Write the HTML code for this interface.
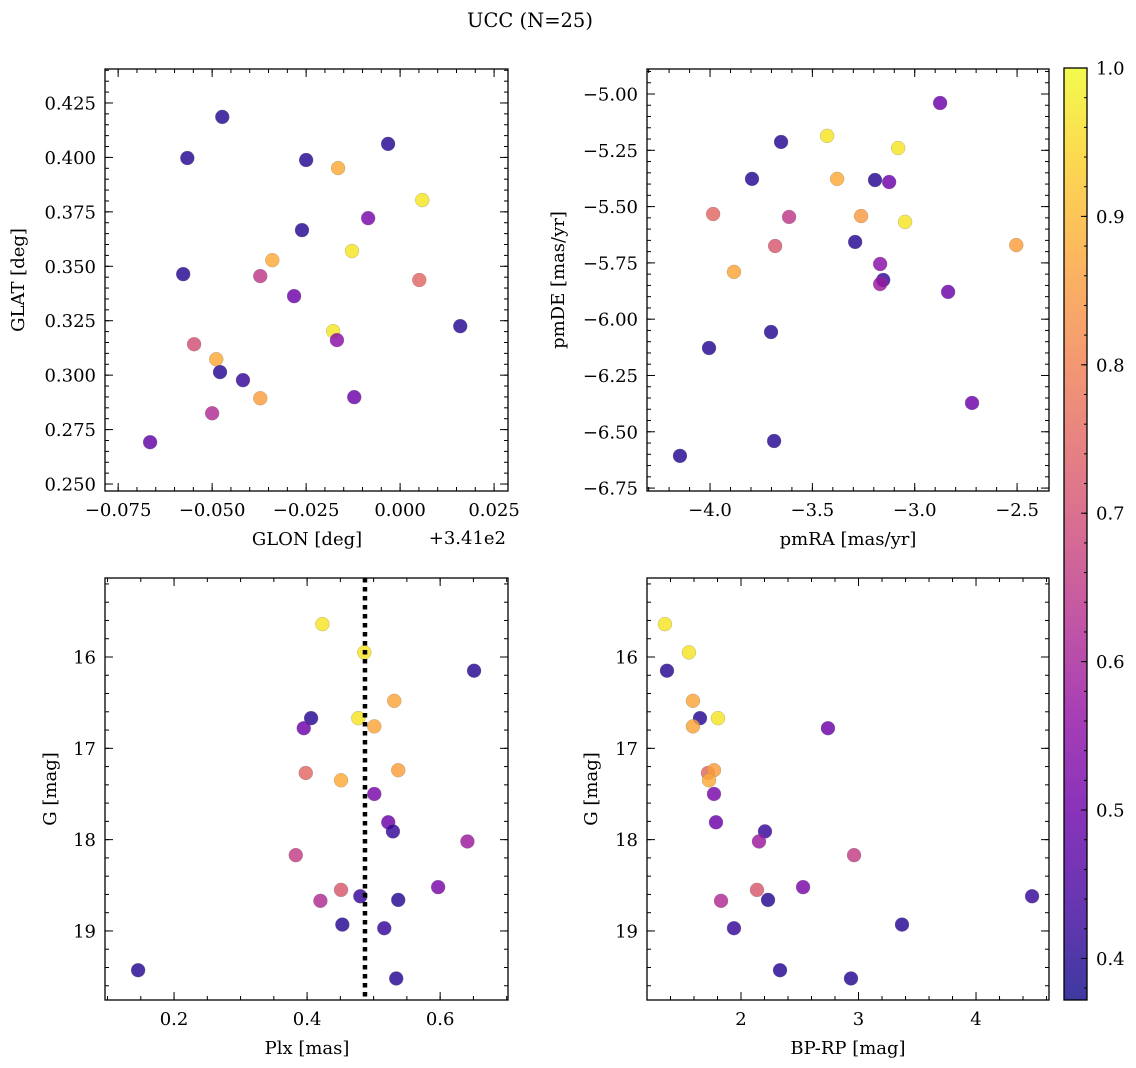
<!DOCTYPE html>
<html><head><meta charset="utf-8"><style>
html,body{margin:0;padding:0;background:#fff;}
svg{display:block;font-family:"DejaVu Serif","Liberation Serif",serif;}
</style></head><body>
<svg id="fig" width="1136" height="1068" viewBox="0 0 1136 1068" xmlns="http://www.w3.org/2000/svg">
<defs>
<linearGradient id="plasma" x1="0" y1="1" x2="0" y2="0">
<stop offset="0" stop-color="#0d0887"/><stop offset="0.1" stop-color="#41049d"/><stop offset="0.2" stop-color="#6a00a8"/><stop offset="0.3" stop-color="#8f0da4"/><stop offset="0.4" stop-color="#b12a90"/><stop offset="0.5" stop-color="#cc4778"/><stop offset="0.6" stop-color="#e16462"/><stop offset="0.7" stop-color="#f2844b"/><stop offset="0.8" stop-color="#fca636"/><stop offset="0.9" stop-color="#fcce25"/><stop offset="1" stop-color="#f0f921"/>
</linearGradient>
</defs>
<text x="530" y="27" text-anchor="middle" font-size="19.5">UCC (N=25)</text>
</svg>
<script>
// Top-left: GLON offset (deg, +341) vs GLAT
const tlGlon=[-0.0473,-0.0566,-0.025,-0.0165,-0.0032,0.0059,-0.0085,-0.0261,-0.0128,-0.034,-0.0577,-0.0372,0.0051,-0.0282,0.016,-0.0178,-0.0168,-0.0548,-0.0489,-0.0479,-0.0418,-0.0372,-0.0122,-0.05,-0.0665];
const tlGlat=[0.4186,0.3997,0.3988,0.3951,0.4062,0.3804,0.3721,0.3666,0.357,0.3528,0.3464,0.3455,0.3437,0.3363,0.3225,0.3202,0.3161,0.3142,0.3073,0.3014,0.2977,0.2894,0.2899,0.2825,0.2692];
const tlProb=[0.4,0.4,0.4,0.88,0.4,0.97,0.52,0.4,0.97,0.88,0.4,0.65,0.75,0.5,0.4,0.97,0.55,0.7,0.88,0.4,0.42,0.86,0.5,0.62,0.48];
// Top-right: pmRA vs pmDE
const trPmra=[-2.876,-3.428,-3.653,-3.081,-3.795,-3.379,-3.125,-3.194,-3.985,-3.614,-3.262,-3.047,-3.682,-3.291,-2.504,-3.169,-3.154,-3.169,-3.883,-2.837,-3.702,-4.005,-2.72,-3.687,-4.147];
const trPmde=[-5.04,-5.186,-5.213,-5.24,-5.377,-5.377,-5.391,-5.382,-5.533,-5.546,-5.542,-5.568,-5.675,-5.657,-5.671,-5.755,-5.826,-5.844,-5.79,-5.879,-6.057,-6.128,-6.372,-6.541,-6.607];
const trProb=[0.5,0.97,0.4,0.97,0.4,0.88,0.5,0.4,0.75,0.65,0.85,0.97,0.72,0.4,0.86,0.55,0.42,0.58,0.87,0.5,0.4,0.4,0.5,0.4,0.4];
// Bottom: Plx, BP-RP, G
const plx=[0.423,0.486,0.651,0.531,0.406,0.477,0.395,0.501,0.398,0.537,0.451,0.501,0.522,0.529,0.641,0.383,0.597,0.451,0.480,0.537,0.420,0.453,0.516,0.146,0.534];
const bprp=[1.353,1.557,1.370,1.591,1.651,1.804,2.740,1.591,1.719,1.770,1.728,1.770,1.787,2.204,2.153,2.962,2.528,2.136,4.477,2.230,1.830,3.370,1.940,2.332,2.936];
const gmag=[15.64,15.95,16.15,16.48,16.67,16.67,16.78,16.76,17.27,17.24,17.35,17.50,17.81,17.91,18.02,18.17,18.52,18.55,18.62,18.66,18.67,18.93,18.97,19.43,19.52];
const botProb=[0.97,0.97,0.4,0.87,0.4,0.97,0.5,0.87,0.75,0.86,0.88,0.52,0.5,0.42,0.58,0.66,0.52,0.72,0.42,0.4,0.62,0.4,0.42,0.4,0.4];
const plxMedian=0.487;
const cbTicks=[0.4,0.5,0.6,0.7,0.8,0.9,1.0];

const NS="http://www.w3.org/2000/svg";
const svg=document.getElementById('fig');
const FS=18;
const VMIN=0.372,VMAX=1.0;
const stops=[[0.0,[13,8,135]],[0.1,[65,4,157]],[0.2,[106,0,168]],[0.3,[143,13,164]],[0.4,[177,42,144]],[0.5,[204,71,120]],[0.6,[225,100,98]],[0.7,[242,132,75]],[0.8,[252,166,54]],[0.9,[252,206,37]],[1.0,[240,249,33]]];
function plasma(v){let t=(v-VMIN)/(VMAX-VMIN);t=Math.max(0,Math.min(1,t));
 for(let i=1;i<stops.length;i++){if(t<=stops[i][0]){const a=stops[i-1],b=stops[i];const f=(t-a[0])/(b[0]-a[0]);
 return 'rgb('+a[1].map((c,k)=>Math.round(c+(b[1][k]-c)*f)).join(',')+')';}}return 'rgb(240,249,33)';}
function el(tag,attrs,parent){const e=document.createElementNS(NS,tag);for(const k in attrs)e.setAttribute(k,attrs[k]);(parent||svg).appendChild(e);return e;}
function fmt(v,d){const s=Math.abs(v).toFixed(d);return (v<-1e-12?'\u2212':'')+s;}

function panel(o){
 const g=el('g',{});
 
 
 const sx=v=>o.x0+(v-o.xmin)/(o.xmax-o.xmin)*(o.x1-o.x0);
 const sy=o.yinv?(v=>o.y0+(v-o.ymin)/(o.ymax-o.ymin)*(o.y1-o.y0)):(v=>o.y1-(v-o.ymin)/(o.ymax-o.ymin)*(o.y1-o.y0));
 for(let i=0;i<o.xs.length;i++){
  const c=el('circle',{cx:sx(o.xs[i]),cy:sy(o.ys[i]),r:7,fill:plasma(o.cs[i]),'fill-opacity':0.82,stroke:'#777','stroke-width':0.4,'stroke-opacity':0.6},g);
  
  
 }
 if(o.vline!==undefined){const l=el('line',{x1:sx(o.vline),x2:sx(o.vline),y1:o.y0,y2:o.y1,stroke:'#000','stroke-width':4.5,'stroke-dasharray':'4.5,4.5'},g);
  
  }
 const tk=el('g',{stroke:'#000','stroke-width':1},g);
 const eps=1e-9;
 for(let v=Math.ceil(o.xmin/o.xminor-eps)*o.xminor;v<=o.xmax+eps;v+=o.xminor){const x=sx(v);el('line',{x1:x,x2:x,y1:o.y1,y2:o.y1-4},tk);el('line',{x1:x,x2:x,y1:o.y0,y2:o.y0+4},tk);}
 for(let v=Math.ceil(o.ymin/o.yminor-eps)*o.yminor;v<=o.ymax+eps;v+=o.yminor){const y=sy(v);el('line',{x1:o.x0,x2:o.x0+4,y1:y,y2:y},tk);el('line',{x1:o.x1,x2:o.x1-4,y1:y,y2:y},tk);}
 o.xticks.forEach(v=>{const x=sx(v);el('line',{x1:x,x2:x,y1:o.y1,y2:o.y1-8},tk);el('line',{x1:x,x2:x,y1:o.y0,y2:o.y0+8},tk);
  const t=el('text',{x:x,y:o.y1+25,'text-anchor':'middle','font-size':FS},g);t.textContent=fmt(v,o.xd);
  
  });
 o.yticks.forEach(v=>{const y=sy(v);el('line',{x1:o.x0,x2:o.x0+8,y1:y,y2:y},tk);el('line',{x1:o.x1,x2:o.x1-8,y1:y,y2:y},tk);
  const t=el('text',{x:o.x0-9,y:y+6.5,'text-anchor':'end','font-size':FS},g);t.textContent=fmt(v,o.yd);
  
  });
 el('rect',{x:o.x0,y:o.y0,width:o.x1-o.x0,height:o.y1-o.y0,fill:'none',stroke:'#000','stroke-width':1.3},g);
 const xl=el('text',{x:o.xlx,y:o.y1+54,'text-anchor':'middle','font-size':FS},g);xl.textContent=o.xlabel;
 
 
 const cy=(o.y0+o.y1)/2;
 const yl=el('text',{x:o.ylx,y:cy,'text-anchor':'middle','font-size':FS,transform:'rotate(-90 '+o.ylx+' '+cy+')'},g);yl.textContent=o.ylabel;
 
 
 if(o.offset){const t=el('text',{x:o.x1-2,y:o.y1+53,'text-anchor':'end','font-size':FS},g);t.textContent=o.offset;
  
  }
}

panel({name:'glon-glat-panel',x0:105,x1:508,y0:69,y1:491,xmin:-0.0785,xmax:0.0287,ymin:0.2468,ymax:0.4406,xs:tlGlon,ys:tlGlat,cs:tlProb,
 xticks:[-0.075,-0.05,-0.025,0,0.025],xminor:0.005,xd:3,yticks:[0.25,0.275,0.3,0.325,0.35,0.375,0.4,0.425],yminor:0.005,yd:3,
 xlabel:'GLON [deg]',xlx:307,ylabel:'GLAT [deg]',ylx:24,offset:'+3.41e2'});
panel({name:'pm-panel',x0:647,x1:1049,y0:69,y1:491,xmin:-4.308,xmax:-2.344,ymin:-6.763,ymax:-4.889,xs:trPmra,ys:trPmde,cs:trProb,
 xticks:[-4,-3.5,-3,-2.5],xminor:0.1,xd:1,yticks:[-6.75,-6.5,-6.25,-6,-5.75,-5.5,-5.25,-5],yminor:0.05,yd:2,
 xlabel:'pmRA [mas/yr]',xlx:848,ylabel:'pmDE [mas/yr]',ylx:564});
panel({name:'plx-g-panel',x0:105,x1:508,y0:578,y1:1000,xmin:0.0962,xmax:0.702,ymin:15.135,ymax:19.756,yinv:true,xs:plx,ys:gmag,cs:botProb,vline:plxMedian,
 xticks:[0.2,0.4,0.6],xminor:0.05,xd:1,yticks:[16,17,18,19],yminor:0.2,yd:0,
 xlabel:'Plx [mas]',xlx:307,ylabel:'G [mag]',ylx:56});
panel({name:'cmd-panel',x0:647,x1:1049,y0:578,y1:1000,xmin:1.2,xmax:4.621,ymin:15.135,ymax:19.756,yinv:true,xs:bprp,ys:gmag,cs:botProb,
 xticks:[2,3,4],xminor:0.2,xd:0,yticks:[16,17,18,19],yminor:0.2,yd:0,
 xlabel:'BP-RP [mag]',xlx:848,ylabel:'G [mag]',ylx:597});

const cb=el('g',{});


const cbx0=1064,cbx1=1087,cby0=68,cby1=1000;
const cby=v=>cby1-(v-VMIN)/(VMAX-VMIN)*(cby1-cby0);
el('rect',{x:cbx0,y:cby0,width:cbx1-cbx0,height:cby1-cby0,fill:'url(#plasma)','fill-opacity':0.8},cb);
for(let v=0.38;v<=1.0001;v+=0.02){const y=cby(v);el('line',{x1:cbx1,x2:cbx1-3,y1:y,y2:y,stroke:'#000'},cb);}
cbTicks.forEach(v=>{const y=cby(v);el('line',{x1:cbx1,x2:cbx1-6,y1:y,y2:y,stroke:'#000'},cb);
 const t=el('text',{x:cbx1+9,y:y+6.5,'font-size':FS},cb);t.textContent=v.toFixed(1);
 
 });
el('rect',{x:cbx0,y:cby0,width:cbx1-cbx0,height:cby1-cby0,fill:'none',stroke:'#000','stroke-width':1.3},cb);
</script>
</body></html>
